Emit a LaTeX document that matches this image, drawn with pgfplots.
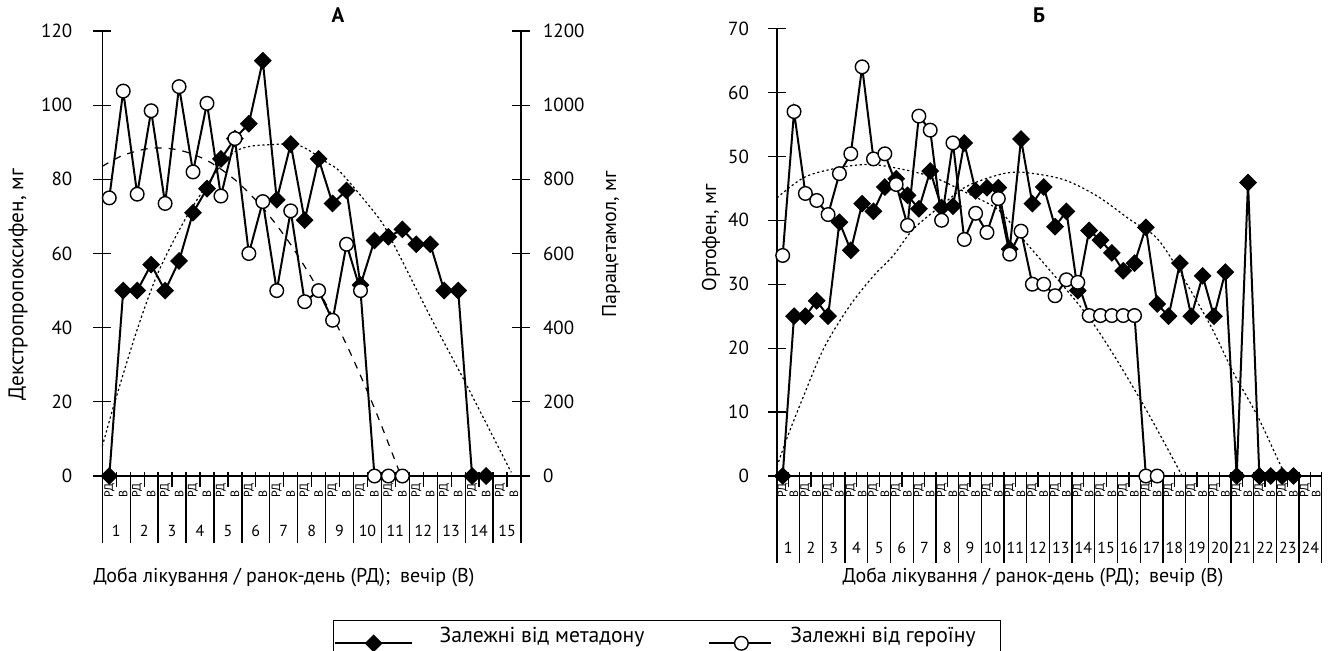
\documentclass[border=0pt]{standalone}
\usepackage{fontspec}
\setmainfont{PT Sans}
\usepackage{pgfplots}
\pgfplotsset{compat=1.18}

\pgfplotsset{
  meth/.style={black, line width=1pt, mark=square*, mark size=2.9pt,
    mark options={rotate=45, solid, fill=black, line width=0.5pt}},
  her/.style={black, line width=1pt, mark=*, mark size=3.4pt,
    mark options={solid, fill=white, line width=0.7pt}},
  methimg/.style={legend image code/.code={%
    \draw[mark repeat=2, mark phase=2, ##1] plot coordinates {(0pt,0pt) (19.5pt,0pt) (38.5pt,0pt)};
    \path (52pt,0pt);}},
  herimg/.style={legend image code/.code={%
    \draw[mark repeat=2, mark phase=2, ##1] plot coordinates {(0pt,0pt) (16pt,0pt) (31pt,0pt)};
    \path (40pt,0pt);}},
  trend/.style={black, line width=0.6pt, dash pattern=on 1.1pt off 1.3pt,
    smooth, no markers, forget plot},
  panel/.style={scale only axis, clip=false,
    axis line style={-, line width=0.65pt},
    tick style={black, line width=0.65pt}, tick align=center, major tick length=9pt,
    xtick=\empty,
    tick label style={font=\fontsize{9.5}{11}\selectfont},
    label style={font=\fontsize{10}{12}\selectfont},
    /pgf/number format/assume math mode=true,
    /pgf/number format/1000 sep={}, scaled y ticks=false},
}

% day / half-day scale under the x axis
\newcommand{\dayaxis}[4]{%
  \pgfplotsinvokeforeach{0,...,#1}{%
    \draw[line width=0.65pt] ([yshift=2pt]axis cs:2*##1-0.5,0) -- ([yshift=-#3]axis cs:2*##1-0.5,0);}%
  \pgfplotsinvokeforeach{1,...,#1}{%
    \draw[line width=0.65pt] ([yshift=2pt]axis cs:2*##1-1.5,0) -- ([yshift=-5.5pt]axis cs:2*##1-1.5,0);
    \node[rotate=90, anchor=west, inner sep=0pt, font=\fontsize{6}{6}\selectfont] at ([yshift=-#4]axis cs:2*##1-2,0) {РД};
    \node[rotate=90, anchor=west, inner sep=0pt, font=\fontsize{6}{6}\selectfont] at ([yshift=-#4]axis cs:2*##1-1,0) {В};
    \node[font=\fontsize{8}{9}\selectfont] at ([yshift=-#2]axis cs:2*##1-1.5,0) {##1};}%
}

\begin{document}
\begin{tikzpicture}
% ---------- panel A, left axis (methadone)
\begin{axis}[panel, at={(51.15pt,-238pt)}, anchor=south west,
  width=209.35pt, height=222.5pt,
  xmin=-0.5, xmax=29.5, ymin=0, ymax=120, ytick={0,20,...,120},
  axis x line*=bottom, axis y line*=left,
  yticklabel style={xshift=-7pt},
  ylabel={Декстропропоксифен, мг},
  xlabel={Доба лікування / ранок-день (РД);\enspace вечір (В)},
  title={А},
  every axis y label/.style={at={(axis description cs:-0.2013,0.43)}, rotate=90, anchor=center, font=\fontsize{10.6}{12}\selectfont},
  every axis x label/.style={at={(axis description cs:0.434,-0.227)}, anchor=center},
  every axis title/.style={at={(axis description cs:0.563,1.036)}, anchor=center, font=\bfseries\fontsize{10.5}{12}\selectfont}]
\addplot[trend] coordinates {(-0.5,8) (0.4,20) (2,39.5) (3.6,55.7) (6,72.8) (8.9,87.2) (11.8,89.4) (13.7,89) (15.6,84.5) (16.6,81.8) (19.2,70.1) (20.2,63.8) (23,43) (25.4,26) (28.8,1)};
\addplot[meth] coordinates {(0,0) (1,50) (2,50) (3,57) (4,50) (5,58) (6,71) (7,77.5) (8,85.5) (9,91) (10,95) (11,112) (12,74.5) (13,89.5) (14,69) (15,85.5) (16,73.5) (17,77) (18,51.5) (19,63.5) (20,64.5) (21,66.5) (22,62.5) (23,62.5) (24,50) (25,50) (26,0) (27,0)};
\dayaxis{15}{27.5pt}{33.5pt}{11pt}
\end{axis}
% ---------- panel A, right axis (heroin)
\begin{axis}[panel, at={(51.15pt,-238pt)}, anchor=south west,
  width=209.35pt, height=222.5pt,
  xmin=-0.5, xmax=29.5, ymin=0, ymax=1200, ytick={0,200,...,1200},
  axis x line=none, axis y line*=right,
  yticklabel style={xshift=3pt},
  ylabel={Парацетамол, мг},
  every axis y label/.style={at={(axis description cs:1.215,0.52)}, rotate=90, anchor=center},
  legend columns=2, legend cell align=left,
  legend style={at={(axis description cs:0.551,-0.3236)}, anchor=north west,
    draw=black, line width=0.6pt, inner sep=0pt,
    font=\fontsize{10.8}{12}\selectfont,
    nodes={inner xsep=0pt, inner ysep=3.5pt, text depth=8pt},
    /tikz/every even column/.append style={column sep=32pt}}]
\addlegendimage{meth, methimg}
\addlegendentry{Залежні від метадону}
\addplot[trend, dash pattern=on 3.5pt off 3.5pt, line width=0.6pt] coordinates {(-0.5,835) (1,865) (3,884) (5,879) (7,851) (9,799) (11,723) (13,624) (15,501) (17,354) (19,183) (20.9,0)};
\addplot[her, herimg]
  coordinates {(0,750) (1,1038) (2,760) (3,985) (4,735) (5,1050) (6,820) (7,1005) (8,755) (9,910) (10,600) (11,740) (12,500) (13,715) (14,470) (15,500) (16,420) (17,625) (18,500) (19,0) (20,0) (21,0)};
\addlegendentry{Залежні від героїну\kern12.5pt}
\end{axis}
% ---------- panel Б
\begin{axis}[panel, at={(388.5pt,-238pt)}, anchor=south west,
  width=272.4pt, height=223.75pt,
  xmin=-0.5, xmax=47.5, ymin=0, ymax=70, ytick={0,10,...,70},
  axis x line*=bottom, axis y line*=left,
  yticklabel style={xshift=-6pt},
  ylabel={Ортофен, мг},
  xlabel={Доба лікування / ранок-день (РД);\enspace вечір (В)},
  title={Б},
  every axis y label/.style={at={(axis description cs:-0.121,0.532)}, rotate=90, anchor=center},
  every axis x label/.style={at={(axis description cs:0.47,-0.2257)}, anchor=center},
  every axis title/.style={at={(axis description cs:0.481,1.03)}, anchor=center, font=\bfseries\fontsize{10.5}{12}\selectfont}]
\addplot[trend] coordinates {(-0.5,43.5) (2.1,46.9) (5.9,48.5) (8.6,48.6) (13,46.9) (16.2,44.3) (19.1,41.5) (21.2,37) (27.1,24.5) (31.5,12) (35.2,0)};
\addplot[trend] coordinates {(-0.5,1.5) (0.35,5.8) (1.5,11) (3.6,19.9) (5.9,26.6) (8,31.3) (9.7,34.4) (11.5,38.6) (13.9,42.2) (16.2,45.3) (19.2,47.2) (21.2,47.5) (24.7,46.4) (27.7,43.8) (30.6,40.1) (33.3,36.5) (37.4,24.5) (39.7,16.2) (41.8,9.5) (43.6,2.7) (44.3,0)};
\addplot[meth] coordinates {(0,0) (1,25) (2,25) (3,27.4) (4,25) (5,39.7) (6,35.3) (7,42.6) (8,41.4) (9,45.2) (10,46.5) (11,43.9) (12,41.8) (13,47.7) (14,42) (15,42.2) (16,52.1) (17,44.6) (18,45.1) (19,45.1) (20,35.5) (21,52.7) (22,42.6) (23,45.2) (24,39) (25,41.4) (26,29) (27,38.4) (28,36.9) (29,34.9) (30,32.1) (31,33.3) (32,38.9) (33,26.9) (34,25) (35,33.3) (36,25) (37,31.3) (38,25) (39,31.9) (40,0) (41,45.9) (42,0) (43,0) (44,0) (45,0)};
\addplot[her] coordinates {(0,34.5) (1,57) (2,44.2) (3,43.1) (4,40.9) (5,47.3) (6,50.4) (7,64) (8,49.6) (9,50.4) (10,45.6) (11,39.2) (12,56.3) (13,54.1) (14,40) (15,52.1) (16,37) (17,41.1) (18,38.1) (19,43.4) (20,34.7) (21,38.3) (22,30) (23,30) (24,28.2) (25,30.7) (26,30.3) (27,25.1) (28,25.1) (29,25.1) (30,25.1) (31,25.1) (32,0) (33,0)};
\dayaxis{24}{36pt}{43.5pt}{11pt}
\end{axis}
\pgfresetboundingbox
\path[use as bounding box] (0pt,0pt) rectangle (664pt,-325pt);
\end{tikzpicture}
\end{document}
